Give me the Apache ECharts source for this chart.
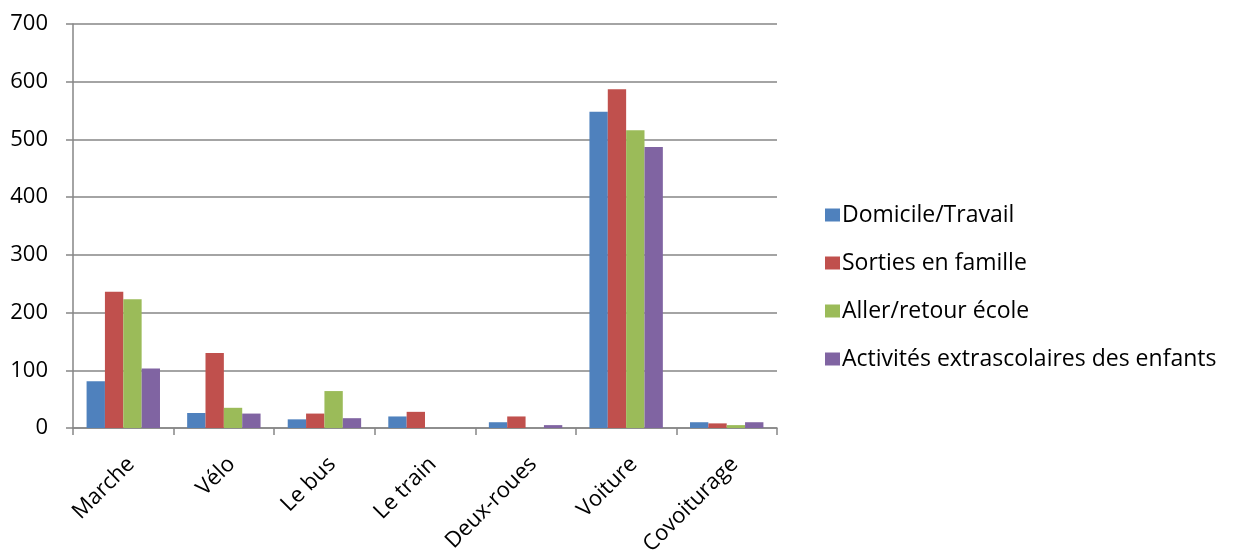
<!DOCTYPE html>
<html><head><meta charset="utf-8">
<script src="https://cdn.jsdelivr.net/npm/echarts@6/dist/echarts.min.js"></script>
<style>html,body{margin:0;padding:0;background:#fff}#c{width:1236px;height:551px}</style>
</head><body><div id="c"></div>
<script>
const categories = ["Marche","Vélo","Le bus","Le train","Deux-roues","Voiture","Covoiturage"];
const seriesNames = ["Domicile/Travail","Sorties en famille","Aller/retour école","Activités extrascolaires des enfants"];
const domicileTravail = [81, 26, 15, 20, 10, 548, 10];
const sortiesFamille = [236, 130, 25, 28, 20, 587, 8];
const allerRetourEcole = [223, 35, 64, 0, 0, 516, 5];
const activitesExtra = [103, 25, 17, 0, 5, 487, 10];
const colors = ["#4F81BD","#C0504D","#9BBB59","#8064A2"];
const values = [domicileTravail, sortiesFamille, allerRetourEcole, activitesExtra];

const font = "'Open Sans', 'Noto Sans', sans-serif";
const chart = echarts.init(document.getElementById('c'), null, {renderer:'canvas'});
chart.setOption({
  animation:false,
  textStyle:{fontFamily:font},
  grid:{left:73, right:459, top:24, bottom:123, containLabel:false, outerBoundsMode:'none'},
  legend:{
    orient:'vertical', left:820, top:198,
    itemWidth:15, itemHeight:13, itemGap:24,
    icon:'rect',
    textStyle:{fontFamily:font, fontSize:23, lineHeight:24, color:'#000', padding:[0,0,0,-3]},
    data:seriesNames
  },
  xAxis:{
    type:'category', data:categories, boundaryGap:true,
    axisLine:{lineStyle:{color:'#868686', width:1.5}},
    axisTick:{show:true, length:7, alignWithLabel:false, lineStyle:{color:'#868686', width:1.5}},
    axisLabel:{rotate:45, fontSize:22, color:'#000', fontFamily:font, margin:25, interval:0, verticalAlign:'top'}
  },
  yAxis:{
    type:'value', min:0, max:700, interval:100,
    axisLine:{show:true, lineStyle:{color:'#868686', width:1.5}},
    axisTick:{show:true, length:7, lineStyle:{color:'#868686', width:1.5}},
    splitLine:{lineStyle:{color:'#868686', width:1.5}},
    axisLabel:{fontSize:22, color:'#000', fontFamily:font, margin:25}
  },
  series: seriesNames.map((n,i)=>({
    name:n, type:'bar', data:values[i], barGap:'0%', barCategoryGap:'27%',
    itemStyle:{color:colors[i]}
  }))
});
</script></body></html>
